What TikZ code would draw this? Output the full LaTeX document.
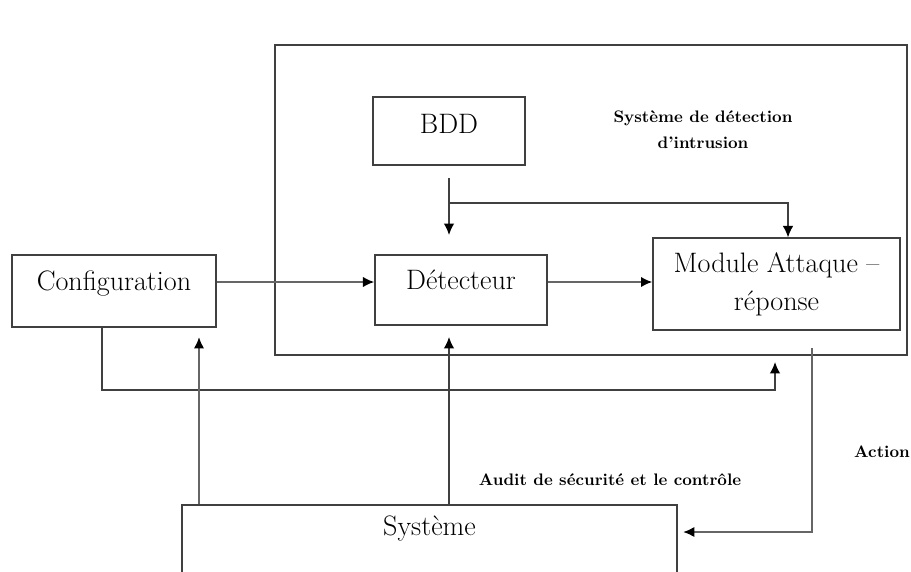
\documentclass[tikz,border=0pt]{standalone}
\usepackage{tikz}
\usetikzlibrary{shapes,arrows,arrows.meta}

\tikzset{
  box/.style={draw=black!75, line width=0.7pt, inner sep=0pt, align=center,
    font=\fontsize{16}{21.5}\selectfont},
  arr/.style={-{Latex[length=6.5pt,width=6pt,color=black]}, draw=black!75, line width=0.8pt},
  heavy/.style={draw=black!60, line width=1.4pt},
  note/.style={font=\fontsize{9.5}{14.8}\selectfont\bfseries, align=center}
}

\begin{document}
\begin{tikzpicture}[x=0.02cm, y=-0.02cm]
  \path[use as bounding box] (0,0) rectangle (911,571);
  \clip (0,0) rectangle (911,571);

  % boxes
  \node[box, line width=0.9pt, minimum width=12.64cm, minimum height=6.2cm] (ids) at (591,200) {};
  \node[box, minimum width=3.04cm, minimum height=1.36cm,
    text height=0.72cm, text depth=0.64cm] (bdd) at (449,131) {BDD};
  \node[box, minimum width=4.08cm, minimum height=1.44cm,
    text height=0.7cm, text depth=0.74cm] (cfg) at (114,291) {Configuration};
  \node[box, minimum width=3.44cm, minimum height=1.4cm,
    text height=0.68cm, text depth=0.72cm] (det) at (461,290) {Détecteur};
  \node[box, minimum width=4.94cm, minimum height=1.84cm] (mod) at (776.5,284)
    {Module Attaque --\\réponse};
  \node[box, minimum width=9.9cm, minimum height=1.9cm,
    text height=0.6cm, text depth=1.3cm] (sys) at (429.5,552.5) {Système};

  % free ends
  \coordinate (row) at (0,282);
  \coordinate (bddtap) at (449,178);
  \coordinate (bddfork) at (449,203);
  \coordinate (detgap) at (449,235);
  \coordinate (modtop) at (788,0);
  \coordinate (cfgret) at (775,390);
  \coordinate (modgap) at (775,362);
  \coordinate (cfgin) at (199,337);
  \coordinate (detin) at (449,337);
  \coordinate (actout) at (812,348);
  \coordinate (sysin) at (683,532);

  % connectors
  \draw[arr, heavy] (cfg.east |- row) -- (det.west |- row);
  \draw[arr, heavy] (det.east |- row) -- (mod.west |- row);
  \draw[arr] (bddtap) -- (detgap);
  \draw[arr] (bddfork) -| (modtop |- mod.north);
  \draw[arr] ([xshift=-0.24cm]cfg.south) |- (cfgret) -- (modgap);
  \draw[arr, heavy] (sys.north -| cfgin) -- (cfgin);
  \draw[arr] (sys.north -| detin) -- (detin);
  \draw[arr, heavy] (actout) |- (sysin);

  % labels
  \node[note] (lblids) at (703,130) {Système de détection\\d'intrusion};
  \node[note] (lblaudit) at (610,480) {Audit de sécurité et le contrôle};
  \node[note] (lblaction) at (882,452) {Action};
\end{tikzpicture}
\end{document}
